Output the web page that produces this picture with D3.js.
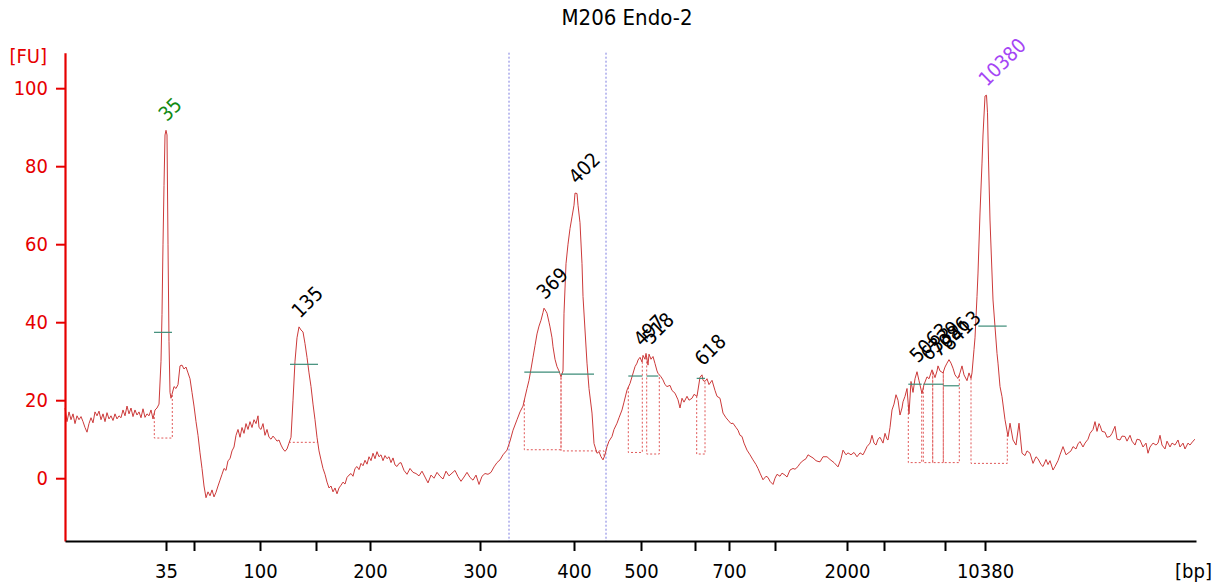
<!DOCTYPE html>
<html>
<head>
<meta charset="utf-8">
<script src="https://cdn.jsdelivr.net/npm/d3@7"></script>
<style>
  html, body { margin: 0; padding: 0; background: #fff; }
  svg { display: block; }
  text { font-family: "DejaVu Sans Condensed", "DejaVu Sans", sans-serif; font-stretch: condensed; }
</style>
</head>
<body>
<svg id="chart" width="1216" height="585"></svg>
<script>
// ---------- data (migration time [s], fluorescence [FU]) ----------
const title = "M206 Endo-2";

const trace = [
[15.0,18.0],[15.2,14.5],[15.4,17.0],[15.6,15.0],[15.8,16.5],[16.0,14.0],[16.2,16.0],[16.4,15.0],[16.6,15.8],[16.8,14.5],
[17.0,13.0],[17.2,11.8],[17.4,14.0],[17.6,15.5],[17.8,14.2],[18.0,17.0],[18.2,16.0],[18.4,17.2],[18.6,15.0],[18.8,16.5],
[19.0,14.5],[19.2,16.8],[19.4,15.2],[19.6,16.0],[19.8,14.8],[20.0,16.5],[20.2,15.2],[20.4,16.0],[20.6,15.5],[20.8,17.5],
[21.0,16.0],[21.2,18.5],[21.4,16.5],[21.6,18.0],[21.8,15.8],[22.0,17.5],[22.2,16.2],[22.4,17.0],[22.6,15.5],[22.8,17.8],
[23.0,15.6],[23.2,16.5],[23.4,16.0],[23.6,17.5],[23.8,15.2],[24.0,17.5],[24.2,18.0],[24.4,19.0],[24.6,30.0],[24.7,42.0],
[24.8,60.0],[24.9,75.0],[25.0,88.0],[25.1,89.2],[25.2,88.0],[25.3,60.0],[25.4,35.0],[25.5,22.0],[25.6,20.5],[25.7,21.5],
[25.9,23.5],[26.1,23.0],[26.3,24.0],[26.5,28.8],[26.7,29.0],[26.9,28.0],[27.1,28.5],[27.3,27.0],[27.5,25.5],[27.7,22.0],
[27.9,18.5],[28.1,14.5],[28.3,11.0],[28.5,6.5],[28.7,2.5],[28.9,-2.0],[29.1,-5.0],[29.3,-3.5],[29.5,-4.5],[29.7,-3.0],
[29.9,-4.8],[30.1,-3.6],[30.3,-2.0],[30.5,-0.5],[30.7,1.0],[30.9,2.5],[31.1,2.0],[31.3,4.5],[31.5,5.0],[31.7,7.0],
[31.9,8.0],[32.1,11.0],[32.3,12.5],[32.5,10.5],[32.7,13.0],[32.9,11.5],[33.1,14.0],[33.3,12.5],[33.5,14.5],[33.7,13.0],
[33.9,15.0],[34.1,14.0],[34.3,16.0],[34.4,13.0],[34.6,12.5],[34.8,14.0],[35.0,11.0],[35.2,12.5],[35.4,10.5],[35.6,10.0],
[35.8,10.8],[36.0,10.2],[36.2,9.5],[36.4,9.8],[36.6,8.5],[36.8,7.5],[37.0,6.9],[37.2,7.5],[37.4,9.0],[37.6,10.5],
[37.8,20.0],[38.0,30.0],[38.2,36.0],[38.4,38.8],[38.6,38.0],[38.8,37.5],[39.0,34.5],[39.2,31.0],[39.4,27.0],[39.6,23.5],
[39.8,19.0],[40.0,15.0],[40.2,10.5],[40.4,7.0],[40.6,4.7],[40.8,2.5],[41.0,1.0],[41.2,-1.0],[41.4,-2.5],[41.6,-2.0],
[41.8,-3.5],[42.0,-2.5],[42.2,-4.0],[42.4,-2.5],[42.6,-1.8],[42.8,-1.0],[43.0,-1.5],[43.2,0.2],[43.4,0.8],[43.6,1.2],
[43.8,0.5],[44.0,2.5],[44.2,3.0],[44.4,2.2],[44.6,3.8],[44.8,3.2],[45.0,4.6],[45.2,3.6],[45.4,5.5],[45.6,4.5],
[45.8,6.4],[46.0,5.0],[46.2,6.8],[46.4,5.5],[46.6,6.0],[46.8,4.5],[47.0,5.8],[47.2,5.0],[47.4,5.5],[47.6,4.0],
[47.8,5.2],[48.0,3.4],[48.2,3.0],[48.4,3.8],[48.6,4.0],[48.9,2.0],[49.2,1.0],[49.5,2.5],[49.8,1.5],[50.1,1.2],
[50.4,0.6],[50.7,1.8],[51.0,0.3],[51.3,-1.2],[51.6,0.8],[51.9,0.0],[52.2,1.5],[52.5,0.5],[52.8,-0.2],[53.1,1.8],
[53.4,0.6],[53.7,1.3],[54.0,2.0],[54.3,0.4],[54.6,-0.8],[54.9,0.3],[55.2,1.5],[55.5,0.2],[55.8,-0.5],[56.1,0.8],
[56.4,-1.6],[56.7,0.5],[57.0,1.2],[57.3,1.0],[57.6,1.5],[57.9,2.9],[58.2,4.0],[58.5,4.7],[58.8,6.0],[59.2,7.2],
[59.5,9.5],[59.8,12.3],[60.2,15.0],[60.5,17.0],[60.8,18.5],[61.0,20.8],[61.2,23.0],[61.4,25.1],[61.6,28.0],[61.8,31.0],
[62.0,34.0],[62.2,37.0],[62.4,39.0],[62.6,40.5],[62.8,42.5],[62.9,43.6],[63.1,42.8],[63.2,42.3],[63.4,40.0],[63.5,38.8],
[63.7,36.0],[63.8,33.7],[64.0,30.5],[64.2,28.6],[64.4,27.5],[64.6,26.0],[64.8,27.5],[64.9,42.3],[65.1,55.0],[65.3,60.0],
[65.5,64.0],[65.7,67.0],[65.9,70.0],[66.0,73.1],[66.2,73.0],[66.3,70.0],[66.5,65.5],[66.7,55.0],[66.8,46.6],[67.0,38.0],
[67.2,29.5],[67.4,23.0],[67.7,16.7],[67.9,8.9],[68.2,6.4],[68.4,6.8],[68.6,5.5],[68.8,4.7],[69.0,6.0],[69.2,8.1],
[69.4,9.5],[69.7,10.7],[69.9,12.5],[70.2,14.1],[70.4,15.5],[70.7,17.5],[70.9,19.5],[71.2,22.6],[71.5,24.3],[71.7,26.0],
[72.0,28.6],[72.2,29.5],[72.3,30.3],[72.5,31.0],[72.7,29.8],[72.8,31.5],[73.0,30.5],[73.1,32.0],[73.3,29.0],[73.4,31.8],
[73.6,30.5],[73.8,31.2],[74.0,29.4],[74.2,27.5],[74.3,26.9],[74.6,26.0],[74.8,25.2],[75.0,24.0],[75.2,23.5],[75.5,23.8],
[75.7,22.5],[76.0,21.8],[76.3,20.1],[76.5,18.0],[76.7,20.5],[76.9,19.5],[77.2,21.0],[77.4,20.0],[77.7,20.5],[77.9,21.5],
[78.2,21.0],[78.5,25.9],[78.7,26.5],[78.8,25.1],[79.0,24.8],[79.2,25.5],[79.4,24.0],[79.7,25.1],[80.0,22.5],[80.2,21.0],
[80.5,20.5],[80.7,18.0],[80.8,16.7],[81.1,15.5],[81.3,14.9],[81.6,14.0],[81.8,14.1],[82.1,13.0],[82.3,12.3],[82.5,11.0],
[82.7,10.7],[82.9,9.0],[83.2,7.2],[83.5,6.0],[83.8,4.7],[84.1,3.5],[84.3,2.5],[84.5,1.3],[84.8,-0.4],[85.1,0.5],
[85.3,0.2],[85.5,-0.8],[85.8,-1.6],[86.0,0.0],[86.2,1.0],[86.5,0.5],[86.7,1.3],[87.0,0.8],[87.2,0.3],[87.5,2.1],
[87.8,2.5],[88.0,2.3],[88.3,3.0],[88.5,3.8],[88.8,4.5],[89.1,5.0],[89.3,6.0],[89.6,5.5],[89.8,5.2],[90.1,4.5],
[90.3,4.3],[90.5,4.2],[90.8,5.5],[91.2,5.5],[91.5,4.8],[91.9,4.0],[92.3,2.9],[92.6,5.0],[92.8,7.2],[93.1,6.0],
[93.3,6.5],[93.6,6.0],[93.9,6.6],[94.2,5.5],[94.5,6.5],[94.8,6.0],[95.0,7.0],[95.2,8.1],[95.5,9.0],[95.7,11.0],
[95.9,9.0],[96.1,8.5],[96.3,10.0],[96.5,10.5],[96.8,9.0],[97.0,11.5],[97.2,10.0],[97.3,9.8],[97.5,13.0],[97.7,17.5],
[97.9,19.0],[98.1,21.4],[98.3,20.0],[98.5,16.2],[98.7,18.0],[98.8,19.6],[99.0,21.0],[99.2,23.0],[99.4,16.5],[99.6,24.8],
[99.8,22.0],[100.0,25.5],[100.2,27.3],[100.4,25.0],[100.5,23.9],[100.7,21.7],[100.9,24.0],[101.2,26.0],[101.4,25.5],[101.7,27.8],
[101.9,26.5],[102.0,25.8],[102.2,27.5],[102.3,28.8],[102.5,27.5],[102.8,27.0],[103.0,28.5],[103.2,29.5],[103.4,30.4],[103.6,29.5],
[103.8,28.2],[104.0,26.5],[104.2,25.8],[104.3,25.6],[104.5,27.0],[104.7,28.8],[104.9,26.5],[105.2,25.0],[105.4,27.0],[105.6,25.6],
[105.7,27.0],[105.9,33.0],[106.0,36.0],[106.2,46.6],[106.3,52.6],[106.5,68.0],[106.7,80.8],[106.8,88.0],[107.0,98.0],[107.15,98.2],
[107.25,93.7],[107.35,81.6],[107.5,66.2],[107.8,45.7],[108.2,32.0],[108.3,29.5],[108.5,23.5],[108.7,20.9],[109.0,15.0],[109.3,10.7],
[109.5,14.1],[109.8,9.8],[110.1,8.5],[110.4,14.1],[110.7,6.4],[111.0,5.8],[111.2,7.0],[111.5,6.4],[111.8,3.8],[112.1,5.5],
[112.3,5.0],[112.6,3.5],[112.8,3.0],[113.1,4.8],[113.3,3.5],[113.5,4.5],[113.8,2.1],[114.0,3.0],[114.3,4.5],[114.5,6.0],
[114.8,8.1],[115.1,6.0],[115.3,6.4],[115.6,7.0],[115.8,8.1],[116.1,7.5],[116.3,8.8],[116.5,9.4],[116.8,8.0],[117.0,9.0],
[117.3,10.0],[117.5,11.5],[117.8,12.5],[118.0,14.5],[118.2,12.0],[118.4,14.0],[118.5,13.5],[118.7,12.0],[119.0,11.8],[119.2,10.5],
[119.5,10.7],[119.7,11.5],[120.0,13.3],[120.2,10.0],[120.5,9.8],[120.7,10.8],[121.0,10.7],[121.2,9.5],[121.5,11.0],[121.7,9.5],
[122.0,8.5],[122.2,10.0],[122.5,9.8],[122.8,8.0],[123.1,9.0],[123.3,6.4],[123.5,8.0],[123.8,9.0],[124.1,8.5],[124.3,9.0],
[124.5,11.0],[124.7,8.5],[125.0,7.5],[125.2,9.5],[125.5,8.0],[125.7,9.0],[126.0,8.5],[126.3,9.8],[126.5,8.0],[126.8,9.0],
[127.0,7.5],[127.3,9.0],[127.5,8.5],[127.8,9.5],[128.0,10.0]
];

// ladder ticks on the bp axis (time position, label)
const tickTimes  = [25.1, 27.9, 34.5, 40.1, 45.5, 56.5, 65.9, 72.6, 78.0, 81.4, 86.0, 93.2, 96.9, 103.0, 107.0];
const tickLabels = ["35", "", "100", "", "200", "300", "400", "500", "", "700", "", "2000", "", "", "10380"];

const yTicks = [0, 20, 40, 60, 80, 100];

// region markers (lower / upper boundary of the selected region)
const regionTimes = [59.4, 69.1];

// peaks
const peakLabels = ["35", "135", "369", "402", "497", "518", "618", "5063", "6339", "7086", "8413", "10380"];
const peakTimes  = [25.1, 38.4, 62.9, 66.1, 72.6, 73.5, 78.7, 100.2, 101.3, 102.3, 103.4, 107.1];
const peakHeights= [89.2, 38.8, 43.6, 73.1, 31.5, 32.0, 26.5, 27.3, 27.8, 28.8, 30.4, 98.2];
const peakKind   = ["lower", "", "", "", "", "", "", "", "", "", "", "upper"];
const peakStart  = [23.93, 37.45, 60.93, 64.6, 71.33, 73.17, 78.17, 99.33, 100.83, 101.77, 102.83, 105.6];
const peakEnd    = [25.73, 40.25, 64.6, 68.9, 72.73, 74.43, 79.0, 100.67, 101.77, 102.83, 104.43, 109.23];
const peakBase   = [10.3, 9.2, 7.3, 7.0, 6.6, 6.2, 6.2, 4.0, 4.0, 4.0, 4.0, 3.8];
const markStart  = [23.9, 37.5, 60.93, 64.6, 71.33, 73.17, 78.17, 99.33, 100.83, 101.77, 102.83, 106.33];
const markEnd    = [25.7, 40.3, 64.5, 67.9, 72.73, 74.33, 79.0, 100.67, 101.77, 102.83, 104.43, 109.17];
const markLevel  = [37.4, 29.2, 27.2, 26.7, 26.2, 26.2, 25.6, 24.1, 24.1, 24.1, 23.7, 39.0];

// ---------- drawing ----------
const svg = d3.select("#chart");
const x = d3.scaleLinear().domain([15, 128.1]).range([65, 1196]);
const y = d3.scaleLinear().domain([-16.1, 109.1]).range([541, 52.7]);

const RED = "#e60000";
const kindColor = { lower: "#138a13", upper: "#a545f5", "": "#000" };

function valueAt(t) {
  const i = d3.bisector(d => d[0]).left(trace, t);
  if (i <= 0) return trace[0][1];
  if (i >= trace.length) return trace[trace.length - 1][1];
  const a = trace[i - 1], b = trace[i];
  return a[1] + (b[1] - a[1]) * (t - a[0]) / (b[0] - a[0]);
}

// title
svg.append("text").attr("x", 627).attr("y", 25)
  .attr("text-anchor", "middle").attr("font-size", 22).attr("fill", "#000")
  .text(title);

// region markers
svg.selectAll("line.region").data(regionTimes).join("line")
  .attr("class", "region")
  .attr("x1", d => x(d)).attr("x2", d => x(d))
  .attr("y1", y.range()[1]).attr("y2", y.range()[0])
  .attr("stroke", "#7c7ce0").attr("stroke-width", 1).attr("stroke-dasharray", "2,2");

// peak integration boxes (dotted)
const peaks = peakLabels.map((l, i) => ({
  label: l, t: peakTimes[i], h: peakHeights[i], kind: peakKind[i],
  s: peakStart[i], e: peakEnd[i], base: peakBase[i],
  ms: markStart[i], me: markEnd[i], ml: markLevel[i]
}));

const boxG = svg.append("g").attr("fill", "none").attr("stroke", "#e05858")
  .attr("stroke-width", 1).attr("stroke-dasharray", "2,2");
peaks.forEach(p => {
  boxG.append("path").attr("d",
    `M${x(p.s)},${y(valueAt(p.s))}L${x(p.s)},${y(p.base)}L${x(p.e)},${y(p.base)}L${x(p.e)},${y(valueAt(p.e))}`);
});

// trace
svg.append("path").datum(trace)
  .attr("fill", "none").attr("stroke", "#cc3a3a").attr("stroke-width", 1)
  .attr("d", d3.line().x(d => x(d[0])).y(d => y(d[1])));

// peak marks (green)
svg.selectAll("line.mark").data(peaks).join("line")
  .attr("class", "mark")
  .attr("x1", d => x(d.ms)).attr("x2", d => x(d.me))
  .attr("y1", d => y(d.ml)).attr("y2", d => y(d.ml))
  .attr("stroke", "#3d8c78").attr("stroke-width", 1.2);

// peak labels
svg.selectAll("text.peak").data(peaks).join("text")
  .attr("class", "peak")
  .attr("transform", d => `translate(${x(d.t) + 1},${y(d.h) - 8}) rotate(-45)`)
  .attr("font-size", 20).attr("fill", d => kindColor[d.kind])
  .text(d => d.label);

// y axis
const yAxis = svg.append("g").attr("transform", "translate(65,0)")
  .call(d3.axisLeft(y).tickValues(yTicks).tickSize(9).tickSizeOuter(0).tickPadding(8));
yAxis.select(".domain").attr("stroke", RED).attr("stroke-width", 2.2);
yAxis.selectAll(".tick line").attr("stroke", RED).attr("stroke-width", 2);
yAxis.selectAll(".tick text").attr("fill", RED).attr("font-size", 20)
  .attr("font-family", null);

svg.append("text").attr("x", 47).attr("y", 63).attr("text-anchor", "end")
  .attr("font-size", 20).attr("fill", RED).text("[FU]");

// x axis
const xAxis = svg.append("g").attr("transform", "translate(0,541)")
  .call(d3.axisBottom(x).tickValues(tickTimes).tickFormat((d, i) => tickLabels[i])
    .tickSize(10).tickSizeOuter(0).tickPadding(13));
xAxis.select(".domain").attr("stroke", "#000").attr("stroke-width", 2.2);
xAxis.selectAll(".tick line").attr("stroke", "#000").attr("stroke-width", 2);
xAxis.selectAll(".tick text").attr("fill", "#000").attr("font-size", 20)
  .attr("font-family", null);

svg.append("text").attr("x", 1212).attr("y", 578).attr("text-anchor", "end")
  .attr("font-size", 20).attr("fill", "#000").text("[bp]");
</script>
</body>
</html>
